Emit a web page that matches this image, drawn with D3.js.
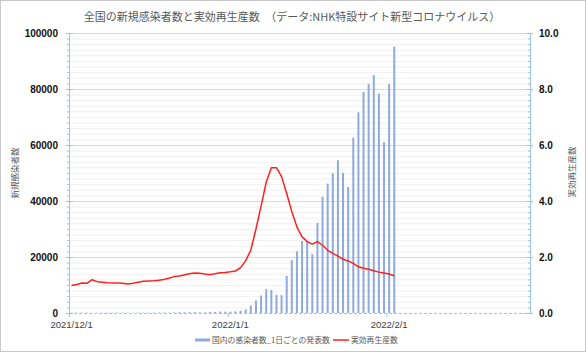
<!DOCTYPE html>
<meta charset="utf-8">
<head>
    <title>新規感染者数と実効再生産数</title>
    <style>
        body { margin: 0; background: #fff; }
        text { font-family: "Noto Sans CJK JP", "Noto Sans", sans-serif; }
        .num { font-family: "Liberation Sans", Arial, sans-serif; }
    </style>
</head>
<script src="https://d3js.org/d3.v7.min.js"></script>
<svg id="chart" width="586" height="352"></svg>
<script>
    // daily new cases, starting 2021/12/1
    const startDate = new Date(2021, 11, 1)
    const cases = [
        128, 120, 133, 123, 93, 65, 111, 146, 144, 137, 151, 126, 82, 135, 176, 168,
        188, 187, 169, 122, 200, 263, 284, 286, 315, 255, 215, 384, 389, 502, 500,
        456, 553, 782, 1266, 2638, 4475, 6214, 8480, 8249, 6438, 6384, 13244, 18860,
        22045, 25742, 25631, 20996, 32197, 41485, 46199, 49854, 54576, 50043, 45000,
        62613, 71633, 78930, 81825, 84935, 78327, 61000, 81800, 95100
    ]
    // effective reproduction number
    const rt = [
        0.98, 1.02, 1.07, 1.06, 1.19, 1.12, 1.10, 1.08, 1.07, 1.07, 1.06, 1.04, 1.06,
        1.10, 1.13, 1.14, 1.15, 1.17, 1.20, 1.24, 1.30, 1.32, 1.36, 1.40, 1.43, 1.42,
        1.39, 1.37, 1.40, 1.44, 1.45,
        1.47, 1.50, 1.62, 1.87, 2.25, 3.00, 3.82, 4.67, 5.19, 5.19, 4.87, 4.27, 3.62,
        3.07, 2.72, 2.55, 2.46, 2.55, 2.42, 2.24, 2.13, 2.03, 1.92, 1.86, 1.77, 1.65,
        1.60, 1.56, 1.51, 1.46, 1.43, 1.39, 1.33
    ]
    const monthLabels = ["2021/12/1", "2022/1/1", "2022/2/1"]
    const leftTicks = [0, 20000, 40000, 60000, 80000, 100000]
    const rightTicks = [0, 2, 4, 6, 8, 10]

    const svg = d3.select("#chart")
    const plotL = 69, plotR = 530, plotT = 33, plotB = 313

    // frame
    svg.append("rect")
        .attr("x", 0.5).attr("y", 0.5)
        .attr("width", 585).attr("height", 351)
        .attr("fill", "#fff")
        .attr("stroke", "#c8c8c8")

    // one slot per day, Dec 1 .. Feb 28
    const days = d3.timeDay.range(startDate, new Date(2022, 2, 1))
    const x = d3.scaleBand()
        .domain(days.map(d => +d))
        .range([plotL, plotR])
        .padding(0)
    const dayOf = i => +d3.timeDay.offset(startDate, i)
    const cx = i => x(dayOf(i)) + x.bandwidth() / 2

    const y = d3.scaleLinear().domain([0, 100000]).range([plotB, plotT])
    const y2 = d3.scaleLinear().domain([0, 10]).range([plotB, plotT])

    // grid
    svg.append("g")
        .selectAll("line")
        .data(d3.range(2000, 100001, 2000))
        .join("line")
        .attr("x1", plotL).attr("x2", plotR)
        .attr("y1", d => y(d) + 0.5).attr("y2", d => y(d) + 0.5)
        .attr("stroke", d => d % 20000 === 0 ? "#d9d9d9" : "#f0f0f0")
        .attr("stroke-width", 1)

    // bars
    svg.append("g")
        .selectAll("rect")
        .data(cases)
        .join("rect")
        .attr("x", (d, i) => cx(i) - 1)
        .attr("y", d => y(d))
        .attr("width", 2)
        .attr("height", d => plotB - y(d))
        .attr("fill", "#8faadc")

    // line
    svg.append("path")
        .datum(rt)
        .attr("fill", "none")
        .attr("stroke", "#ff2020")
        .attr("stroke-width", 1.5)
        .attr("stroke-linejoin", "round")
        .attr("d", d3.line().x((d, i) => cx(i)).y(d => y2(d)))

    // x axis (dashed baseline)
    const axisColor = "#9dc3e6"
    svg.append("line")
        .attr("x1", plotL).attr("x2", plotR)
        .attr("y1", plotB + 0.5).attr("y2", plotB + 0.5)
        .attr("stroke", axisColor)
        .attr("stroke-dasharray", "3,2")
    const monthStarts = [new Date(2021, 11, 1), new Date(2022, 0, 1), new Date(2022, 1, 1)]
    svg.append("g")
        .selectAll("line")
        .data(monthStarts)
        .join("line")
        .attr("x1", d => x(+d) + 0.5).attr("x2", d => x(+d) + 0.5)
        .attr("y1", plotB).attr("y2", plotB + 4)
        .attr("stroke", axisColor)
    svg.append("g")
        .selectAll("text")
        .data(monthLabels)
        .join("text")
        .attr("class", "num")
        .attr("x", (d, i) => x(+monthStarts[i]) + x.bandwidth() / 2)
        .attr("y", plotB + 15)
        .attr("text-anchor", "middle")
        .attr("font-size", 9.5)
        .attr("fill", "#404040")
        .text(d => d)

    // left axis
    svg.append("line")
        .attr("x1", plotL + 0.5).attr("x2", plotL + 0.5)
        .attr("y1", plotT).attr("y2", plotB)
        .attr("stroke", axisColor)
    svg.append("g")
        .selectAll("line")
        .data(d3.range(0, 100001, 2000))
        .join("line")
        .attr("x1", d => d % 20000 === 0 ? plotL - 3 : plotL - 2)
        .attr("x2", d => d % 20000 === 0 ? plotL + 4 : plotL)
        .attr("y1", d => y(d) + 0.5).attr("y2", d => y(d) + 0.5)
        .attr("stroke", axisColor)
    svg.append("g")
        .selectAll("text")
        .data(leftTicks)
        .join("text")
        .attr("class", "num")
        .attr("x", 58)
        .attr("y", d => y(d) + 3.5)
        .attr("text-anchor", "end")
        .attr("font-size", 10)
        .attr("font-weight", "bold")
        .attr("fill", "#111")
        .text(d => d)

    // right axis
    svg.append("line")
        .attr("x1", plotR + 0.5).attr("x2", plotR + 0.5)
        .attr("y1", plotT).attr("y2", plotB)
        .attr("stroke", axisColor)
    svg.append("g")
        .selectAll("line")
        .data(d3.range(0, 51))
        .join("line")
        .attr("x1", d => d % 10 === 0 ? plotR - 4 : plotR - 2)
        .attr("x2", d => d % 10 === 0 ? plotR + 3 : plotR)
        .attr("y1", d => y2(d / 5) + 0.5).attr("y2", d => y2(d / 5) + 0.5)
        .attr("stroke", axisColor)
    svg.append("g")
        .selectAll("text")
        .data(rightTicks)
        .join("text")
        .attr("class", "num")
        .attr("x", 539)
        .attr("y", d => y2(d) + 3.5)
        .attr("font-size", 10)
        .attr("font-weight", "bold")
        .attr("fill", "#111")
        .text(d => d3.format(".1f")(d))

    // titles
    svg.append("text")
        .attr("x", 292).attr("y", 21)
        .attr("text-anchor", "middle")
        .attr("font-size", 11)
        .attr("fill", "#595959")
        .text("全国の新規感染者数と実効再生産数　（データ:NHK特設サイト新型コロナウイルス）")
    svg.append("text")
        .attr("transform", "translate(18,173) rotate(-90)")
        .attr("text-anchor", "middle")
        .attr("font-size", 8.5)
        .attr("fill", "#595959")
        .text("新規感染者数")
    svg.append("text")
        .attr("transform", "translate(575,172) rotate(-90)")
        .attr("text-anchor", "middle")
        .attr("font-size", 8.5)
        .attr("fill", "#595959")
        .text("実効再生産数")

    // legend
    const lg = svg.append("g")
    lg.append("rect")
        .attr("x", 195).attr("y", 338.5)
        .attr("width", 15).attr("height", 3)
        .attr("fill", "#8faadc")
    lg.append("text")
        .attr("x", 212).attr("y", 343)
        .attr("font-size", 7.8)
        .attr("fill", "#595959")
        .text("国内の感染者数_1日ごとの発表数")
    lg.append("line")
        .attr("x1", 333).attr("x2", 349)
        .attr("y1", 340).attr("y2", 340)
        .attr("stroke", "#ff2020")
        .attr("stroke-width", 1.5)
    lg.append("text")
        .attr("x", 351).attr("y", 343)
        .attr("font-size", 7.8)
        .attr("fill", "#595959")
        .text("実効再生産数")
</script>
